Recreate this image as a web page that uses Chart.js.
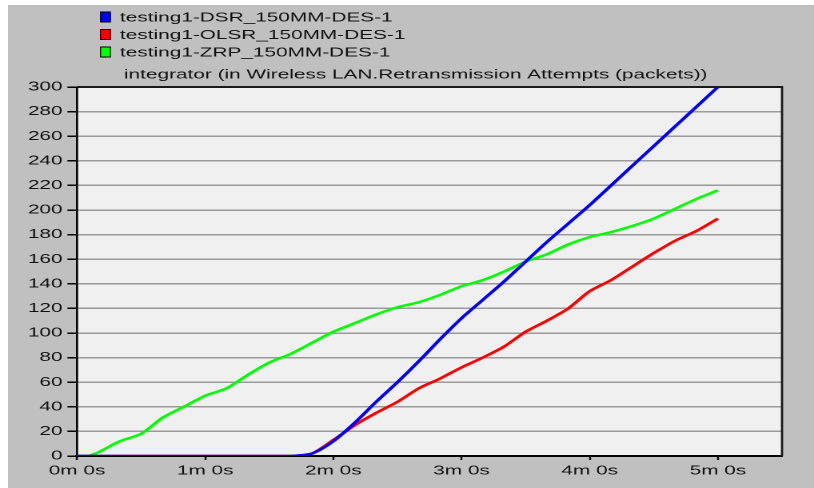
<!DOCTYPE html>
<html>
<head>
<meta charset="utf-8">
<script src="https://cdn.jsdelivr.net/npm/chart.js@4.4.1/dist/chart.umd.min.js"></script>
<style>
  html, body { margin: 0; padding: 0; background: #ffffff; }
  #wrap { position: absolute; left: 8px; top: 5px; width: 806px; height: 483px; background: #c0c0c0; overflow: hidden; }
  /* the original screenshot is stretched sideways, so the chart is laid out narrow and widened */
  #box { position: absolute; left: 0; top: 0; width: 504px; height: 483px; transform: scaleX(1.5992); transform-origin: 0 0; }
</style>
</head>
<body>
<div id="wrap"><div id="box"><canvas id="retxChart"></canvas></div></div>
<script>
const STRETCH = 806 / 504;

// simulation time in seconds
const times = [0, 5, 10, 20, 30, 40, 50, 60, 70, 80, 90, 100, 110, 120, 130, 140, 150,
               160, 170, 180, 190, 200, 210, 220, 230, 240, 250, 260, 270, 280, 290, 300];

const dsrValues = [0, 0, 0, 0, 0, 0, 0, 0, 0, 0, 0, 0, 2, 12, 27, 44, 60,
                   77, 95, 112, 127, 142, 158, 174, 189, 204, 220, 236, 252, 268, 284, 300];
const olsrValues = [0, 0, 0, 0, 0, 0, 0, 0, 0, 0, 0, 0, 2, 13, 25, 35, 44,
                    55, 63, 72, 80, 89, 101, 110, 120, 134, 143, 154, 165, 175, 183, 193];
const zrpValues = [0, 0, 3, 12, 18, 31, 40, 49, 55, 66, 76, 83, 92, 101, 108, 115, 121,
                   125, 131, 138, 143, 150, 158, 164, 172, 178, 182, 187, 193, 201, 209, 216];

const seriesNames = ["testing1-DSR_150MM-DES-1", "testing1-OLSR_150MM-DES-1", "testing1-ZRP_150MM-DES-1"];
const seriesColors = ["#0000ff", "#ff0000", "#00ff00"];
const chartTitle = "integrator (in Wireless LAN.Retransmission Attempts (packets))";

const xTicks = [0, 60, 120, 180, 240, 300];
const yTicks = [0, 20, 40, 60, 80, 100, 120, 140, 160, 180, 200, 220, 240, 260, 280, 300];

function toPoints(vals) {
    return times.map((t, i) => ({ x: t, y: vals[i] }));
}

const FONT = "'Liberation Sans', Arial, sans-serif";

// plot background, frame, legend and title
const decorations = {
    id: "decorations",
    beforeDraw(chart) {
        const { ctx, chartArea: a } = chart;
        ctx.save();
        ctx.fillStyle = "#f0f0f0";
        ctx.fillRect(a.left, a.top, a.right - a.left, a.bottom - a.top);
        ctx.restore();
    },
    afterDraw(chart) {
        const { ctx, chartArea: a } = chart;
        ctx.save();
        ctx.strokeStyle = "#1a1a1a";
        ctx.lineWidth = 2;
        ctx.beginPath();
        ctx.moveTo(a.left, a.top);
        ctx.lineTo(a.right, a.top);
        ctx.stroke();
        ctx.lineWidth = 1.4;
        ctx.beginPath();
        ctx.moveTo(a.right, a.top - 1);
        ctx.lineTo(a.right, a.bottom);
        ctx.stroke();

        // legend
        ctx.font = "13px " + FONT;
        ctx.textBaseline = "middle";
        const bx = 92 / STRETCH, bw = 11 / STRETCH;
        chart.data.datasets.forEach((ds, i) => {
            const y = 12 + i * 17.5;
            ctx.fillStyle = "#000";
            ctx.fillRect(bx, y - 5.5, bw, 11);
            ctx.fillStyle = ds.borderColor;
            ctx.fillRect(bx + 1 / STRETCH, y - 4.5, bw - 2 / STRETCH, 9);
            ctx.fillStyle = "#111";
            ctx.fillText(ds.label, 112 / STRETCH, y + 1);
        });

        // title
        ctx.textAlign = "left";
        ctx.fillText(chartTitle, 116 / STRETCH, 70);
        ctx.restore();
    }
};

const ctx = document.getElementById("retxChart");

new Chart(ctx, {
    type: "line",
    data: {
        datasets: seriesNames.map((name, i) => ({
            label: name,
            data: toPoints([dsrValues, olsrValues, zrpValues][i]),
            borderColor: seriesColors[i],
            backgroundColor: seriesColors[i],
            borderWidth: 2.4,
            pointRadius: 0,
            tension: 0.25,
            fill: false
        }))
    },
    options: {
        responsive: true,
        maintainAspectRatio: false,
        animation: false,
        devicePixelRatio: 2,
        layout: { padding: { left: 0, right: 504 - 774 / STRETCH, top: 82, bottom: 0 } },
        scales: {
            x: {
                type: "linear",
                min: 0,
                max: 330,
                afterFit: (s) => { s.height = 32; },
                afterBuildTicks: (s) => { s.ticks = xTicks.map(v => ({ value: v })); },
                grid: { display: true, drawOnChartArea: false, tickLength: 4, tickColor: "#000", tickWidth: 1.2 },
                border: { color: "#000", width: 2 },
                ticks: {
                    color: "#111",
                    font: { size: 13, family: FONT },
                    padding: 3,
                    maxRotation: 0,
                    callback: (v) => (v / 60) + "m 0s"
                }
            },
            y: {
                min: 0,
                max: 300,
                afterFit: (s) => { s.width = 69 / STRETCH; },
                afterBuildTicks: (s) => { s.ticks = yTicks.map(v => ({ value: v })); },
                grid: { color: "#9a9a9a", lineWidth: 1.5, tickLength: 6, tickColor: "#000", tickWidth: 1.5 },
                border: { color: "#000", width: 1.3 },
                ticks: {
                    color: "#111",
                    font: { size: 13, family: FONT },
                    padding: 3
                }
            }
        },
        plugins: {
            legend: { display: false },
            title: { display: false },
            tooltip: { enabled: false }
        }
    },
    plugins: [decorations]
});
</script>
</body>
</html>
